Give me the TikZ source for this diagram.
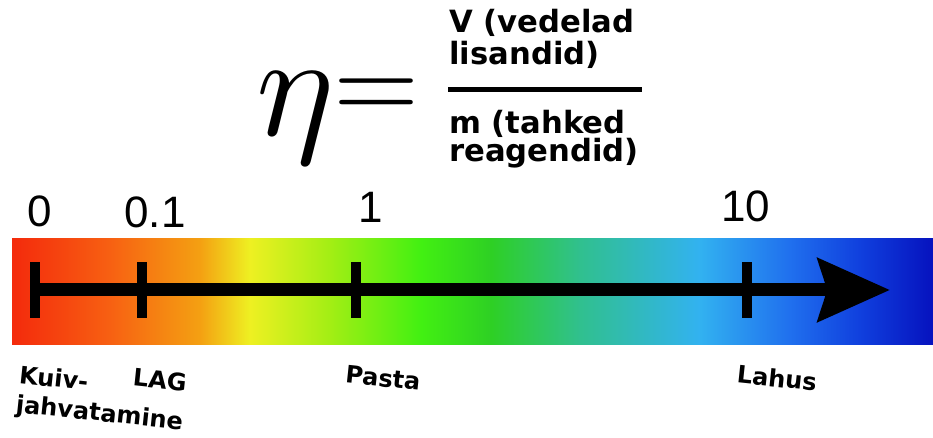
\documentclass[tikz,border=0pt]{standalone}
\usepackage{fontspec}
\setmainfont{Liberation Sans}
\newfontfamily\stagefont{DejaVu Sans}
\usepackage{tikz}
\usetikzlibrary{arrows.meta}
\definecolor{ScaleRed}{HTML}{F42A0C}
\definecolor{ScaleOrangeRed}{HTML}{F76012}
\definecolor{ScaleOrange}{HTML}{F4A012}
\definecolor{ScaleYellow}{HTML}{EEF022}
\definecolor{ScaleLime}{HTML}{A2EE14}
\definecolor{ScaleGreen}{HTML}{42F012}
\definecolor{ScaleLeaf}{HTML}{2ED024}
\definecolor{ScaleTeal}{HTML}{30C08E}
\definecolor{ScaleSky}{HTML}{32B2F0}
\definecolor{ScaleBlue}{HTML}{2070EE}
\definecolor{ScaleDeep}{HTML}{1040DE}
\definecolor{ScaleNavy}{HTML}{0612BE}
\pgfdeclarehorizontalshading{etaRainbow}{100bp}{
  color(0bp)=(ScaleRed); color(25bp)=(ScaleRed);
  color(30.3bp)=(ScaleOrangeRed); color(35.2bp)=(ScaleOrange);
  color(37.9bp)=(ScaleYellow); color(42.3bp)=(ScaleLime);
  color(47.2bp)=(ScaleGreen); color(51bp)=(ScaleLeaf);
  color(55.8bp)=(ScaleTeal); color(62.3bp)=(ScaleSky);
  color(67.2bp)=(ScaleBlue); color(71bp)=(ScaleDeep);
  color(75bp)=(ScaleNavy); color(100bp)=(ScaleNavy)}

\begin{document}
\begin{tikzpicture}[x=.75pt,y=-.75pt]
  \path[use as bounding box] (0,0) rectangle (933,438);
  \tikzset{
    etaTick/.style={
      rectangle, fill=black, inner sep=0pt,
      minimum width=7.5pt, minimum height=42pt
    },
    etaAxis/.style={
      -{Stealth[length=54pt,width=47pt,inset=7pt]},
      draw=black, line width=9.75pt
    },
    etaDigit/.style={
      anchor=base, inner sep=0pt, font=\fontsize{33}{33}\selectfont
    },
    etaFrac/.style={
      anchor=north west, inner sep=0pt, align=left,
      font=\stagefont\bfseries\fontsize{23}{24}\selectfont
    },
    etaStage/.style={
      inner sep=0pt, align=left, rotate=-6,
      font=\stagefont\bfseries\fontsize{18}{20}\selectfont
    }
  }

  % formula
  \node[inner sep=0pt,scale=11] (eta) at (296,118) {$\eta$};
  \node[inner sep=0pt,scale=8.3] (equals) at (377,99) {$=$};
  \node[etaFrac] (numer) at (449,9) {V (vedelad\\lisandid)};
  \node[etaFrac,font=\stagefont\bfseries\fontsize{23}{21}\selectfont] (denom) at (449,110)
    {m (tahked\\reagendid)};
  \draw[line width=3.75pt] (448,90) -- (642,90);

  % colour bar and axis
  \shade[shading=etaRainbow] (12,239) rectangle (933,345);
  \node[etaTick] (tick0) at (35,290) {};
  \node[etaTick] (tick01) at (142,290) {};
  \node[etaTick] (tick1) at (356,290) {};
  \node[etaTick] (tick10) at (747,290) {};
  \coordinate (tip) at (890,290);
  \draw[etaAxis] (tick0.center) -- (tip);

  \node[etaDigit] (d0) at (40,227) {0};
  \node[etaDigit] (d01) at (155,228) {0.1};
  \node[etaDigit] (d1) at (371,223) {1};
  \node[etaDigit] (d10) at (746,222) {10};

  % the second line of the dry stage sits below LAG, as printed
  \node[etaStage,font=\stagefont\bfseries\fontsize{18}{22}\selectfont] (dry) at (101,400)
    {Kuiv-\\jahvatamine};
  \node[etaStage] (lag) at (160,380) {LAG};
  \node[etaStage] (paste) at (383,378) {Pasta};
  \node[etaStage] (solution) at (777,378) {Lahus};
\end{tikzpicture}
\end{document}
